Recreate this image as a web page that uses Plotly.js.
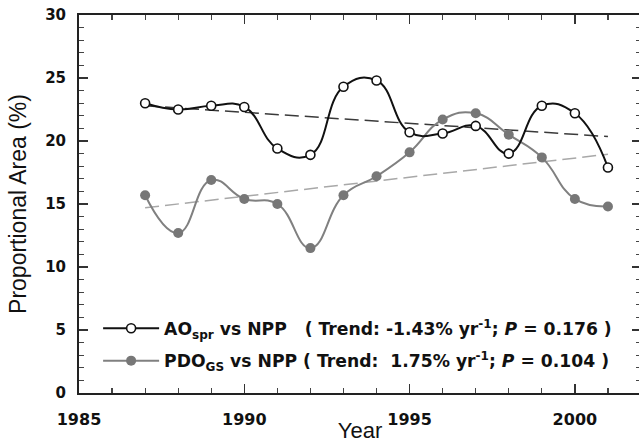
<!DOCTYPE html>
<html><head><meta charset="utf-8">
<script src="https://cdn.plot.ly/plotly-3.0.1.min.js"></script>
<style>html,body{margin:0;padding:0;overflow:hidden;background:#fff}</style>
</head><body>
<div id="chart" style="width:643px;height:443px"></div>
<script>
// Data
const years = [1987, 1988, 1989, 1990, 1991, 1992, 1993, 1994, 1995, 1996, 1997, 1998, 1999, 2000, 2001];
const aoNpp = [23.0, 22.5, 22.8, 22.7, 19.4, 18.9, 24.3, 24.8, 20.7, 20.6, 21.2, 19.0, 22.8, 22.2, 17.9];
const pdoNpp = [15.7, 12.7, 16.9, 15.4, 15.0, 11.5, 15.7, 17.2, 19.1, 21.7, 22.2, 20.5, 18.7, 15.4, 14.8];
const trendYears = [1987, 2001];
const aoTrend = [22.8, 20.35];
const pdoTrend = [14.7, 18.95];
const aoLabel = 'AO<sub>spr</sub> vs NPP\u00A0\u00A0\u00A0( Trend: -1.43% yr<sup>-1</sup>; <i>P</i> = 0.176 )';
const pdoLabel = 'PDO<sub>GS</sub> vs NPP ( Trend:\u00A0 1.75% yr<sup>-1</sup>; <i>P</i> = 0.104 )';
const xTitle = 'Year';
const yTitle = 'Proportional Area (%)';

const WIDE = '"DejaVu Sans", Verdana, sans-serif';
const ARIAL = '"Liberation Sans", Arial, sans-serif';

const traces = [
  {x: trendYears, y: aoTrend, mode: 'lines', showlegend: false, hoverinfo: 'skip',
   line: {color: '#3a3a3a', width: 1.5, dash: '14px,6px'}},
  {x: trendYears, y: pdoTrend, mode: 'lines', showlegend: false, hoverinfo: 'skip',
   line: {color: '#a8a8a8', width: 1.5, dash: '14px,6px'}},
  {x: years, y: pdoNpp, mode: 'lines+markers', name: pdoLabel, legendrank: 2, legendgroup: 'b',
   line: {color: '#808080', width: 2, shape: 'spline', smoothing: 1.3},
   marker: {symbol: 'circle', size: 10, color: '#777777', line: {width: 0}}},
  {x: years, y: aoNpp, mode: 'lines+markers', name: aoLabel, legendrank: 1, legendgroup: 'a',
   line: {color: '#111111', width: 2, shape: 'spline', smoothing: 1.3},
   marker: {symbol: 'circle', size: 9, color: '#ffffff', line: {color: '#111111', width: 1.6}}}
];

const axisCommon = {
  showgrid: false, zeroline: false, showline: true, linecolor: '#222', linewidth: 2,
  mirror: 'ticks', ticks: 'inside', ticklen: 9, tickwidth: 1.3, tickcolor: '#333',
  minor: {ticks: 'inside', ticklen: 5, tickwidth: 1.2, tickcolor: '#444', dtick: 1},
  automargin: false
};

const layout = {
  width: 643, height: 443,
  margin: {l: 79, r: 2, t: 15, b: 50},
  paper_bgcolor: '#fff', plot_bgcolor: '#fff',
  font: {family: ARIAL, color: '#111'},
  showlegend: true,
  legend: {x: 0.034, y: 0.218, xanchor: 'left', yanchor: 'top', bgcolor: 'rgba(0,0,0,0)',
           borderwidth: 0, itemwidth: 56, traceorder: 'grouped', tracegroupgap: 7,
           font: {family: WIDE, size: 17.2, weight: 'bold', color: '#111'}},
  xaxis: Object.assign({}, axisCommon, {
    range: [1985, 2002], tick0: 1985, dtick: 5, ticklabelstandoff: 11,
    tickfont: {family: WIDE, size: 16, weight: 'bold', color: '#111'},
    title: {text: xTitle, font: {family: ARIAL, size: 22, color: '#111'}, standoff: 0}
  }),
  yaxis: Object.assign({}, axisCommon, {
    range: [0, 30], tick0: 0, dtick: 5, ticklabelstandoff: 8,
    tickfont: {family: WIDE, size: 15, weight: 'bold', color: '#111'},
    title: {text: yTitle, font: {family: ARIAL, size: 23, color: '#111'}, standoff: 12}
  })
};

Plotly.newPlot('chart', traces, layout, {displayModeBar: false, staticPlot: true});
</script>
</body></html>
